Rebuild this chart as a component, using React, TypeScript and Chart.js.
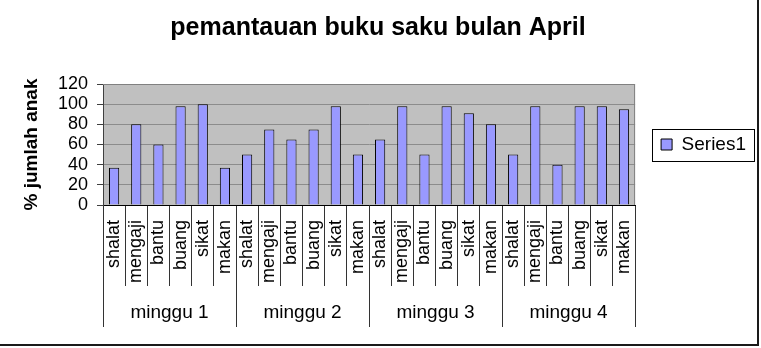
import React, { useEffect, useRef } from "react";
import { Chart, registerables } from "chart.js";

Chart.register(...registerables);

const chartTitle = "pemantauan buku saku bulan April";
const yAxisTitle = "% jumlah anak";
const seriesName = "Series1";
const activities = ["shalat", "mengaji", "bantu", "buang", "sikat", "makan"];
const weeks = ["minggu 1", "minggu 2", "minggu 3", "minggu 4"];
const week1 = [37, 80, 60, 98, 100, 37];
const week2 = [50, 75, 65, 75, 98, 50];
const week3 = [65, 98, 50, 98, 91, 80];
const week4 = [50, 98, 40, 98, 98, 95];
const yMin = 0;
const yMax = 120;
const yStep = 20;

const FONT = "'Liberation Sans', Arial, Helvetica, sans-serif";

const categoryLabels = weeks.flatMap(() => activities);
const seriesValues = [...week1, ...week2, ...week3, ...week4];

const decorPlugin = {
  id: "decor",
  afterLayout(chart: any) {
    // center the legend on the plot area vertically
    const lg = chart.legend;
    const a = chart.chartArea;
    if (lg && a) {
      const h = lg.bottom - lg.top;
      const mid = (a.top + a.bottom) / 2;
      const curMid = (lg.top + lg.bottom) / 2;
      const d = mid - curMid;
      lg.top += d;
      lg.bottom += d;
      if (lg.legendHitBoxes) {
        lg.legendHitBoxes.forEach((hb: any) => {
          hb.top += d;
        });
      }
      void h;
    }
  },
  beforeDraw(chart: any) {
    const { ctx, chartArea: a } = chart;
    ctx.save();
    ctx.fillStyle = "#ffffff";
    ctx.fillRect(0, 0, chart.width, chart.height);
    ctx.fillStyle = "#c0c0c0";
    ctx.fillRect(a.left, a.top, a.right - a.left, a.bottom - a.top);
    ctx.restore();
  },
  beforeDatasetsDraw(chart: any) {
    const { ctx, chartArea: a } = chart;
    ctx.save();
    ctx.strokeStyle = "#808080";
    ctx.lineWidth = 1;
    ctx.beginPath();
    ctx.moveTo(a.left, a.top + 0.5);
    ctx.lineTo(a.right - 0.5, a.top + 0.5);
    ctx.lineTo(a.right - 0.5, a.bottom);
    ctx.stroke();
    ctx.restore();
  },
  afterDraw(chart: any) {
    const { ctx } = chart;
    ctx.save();
    // legend frame
    const lg = chart.legend;
    if (lg && lg.legendHitBoxes && lg.legendHitBoxes.length) {
      const hb = lg.legendHitBoxes[0];
      const cy = hb.top + hb.height / 2;
      ctx.strokeStyle = "#000";
      ctx.lineWidth = 1;
      ctx.strokeRect(Math.round(hb.left - 9) + 0.5, Math.round(cy - 16) + 0.5, Math.round(hb.width + 17), 32);
    }
    // outer frame (right and bottom)
    ctx.strokeStyle = "#1a1a1a";
    ctx.lineWidth = 2;
    ctx.beginPath();
    ctx.moveTo(758, 0);
    ctx.lineTo(758, 345);
    ctx.lineTo(0, 345);
    ctx.stroke();
    ctx.restore();
  },
};

export default function App() {
  const ref = useRef<HTMLCanvasElement | null>(null);

  useEffect(() => {
    if (!ref.current) return;
    Chart.defaults.font.family = FONT;
    const chart = new Chart(ref.current, {
      type: "bar",
      data: {
        labels: categoryLabels,
        datasets: [
          {
            label: seriesName,
            data: seriesValues,
            xAxisID: "x",
            yAxisID: "y",
            backgroundColor: "#9999ff",
            borderColor: "#000000",
            borderWidth: 1,
            barPercentage: 0.46,
            categoryPercentage: 1,
          },
        ],
      },
      options: {
        responsive: false,
        animation: false,
        devicePixelRatio: 1,
        layout: { padding: { left: 0, top: 0, right: 5, bottom: 21 } },
        plugins: {
          title: {
            display: true,
            text: chartTitle,
            color: "#000",
            font: { size: 25, weight: "bold", family: FONT },
            padding: { top: 13, bottom: 41 },
          },
          legend: {
            display: true,
            position: "right",
            labels: {
              boxWidth: 11,
              boxHeight: 11,
              padding: 26,
              color: "#000",
              font: { size: 19, family: FONT },
            },
          },
          tooltip: { enabled: false },
        },
        scales: {
          x: {
            type: "category",
            position: "bottom",
            weight: 0,
            offset: true,
            grid: {
              offset: true,
              drawOnChartArea: false,
              drawTicks: true,
              tickLength: 81,
              color: "#333333",
              lineWidth: 1,
            },
            border: { display: true, color: "#000", width: 1 },
            ticks: {
              autoSkip: false,
              minRotation: 90,
              maxRotation: 90,
              padding: -66,
              color: "#000",
              font: { size: 18, family: FONT },
            },
            afterFit: (s: any) => {
              s.height = 81;
            },
          },
          x2: {
            type: "category",
            position: "bottom",
            weight: 1,
            labels: weeks,
            offset: true,
            grid: {
              offset: true,
              drawOnChartArea: false,
              drawTicks: true,
              tickLength: 41,
              color: "#333333",
              lineWidth: 1,
            },
            border: { display: false },
            ticks: {
              autoSkip: false,
              minRotation: 0,
              maxRotation: 0,
              padding: -25.4,
              color: "#000",
              font: { size: 19, family: FONT },
            },
            afterFit: (s: any) => {
              s.height = 41;
            },
          },
          y: {
            type: "linear",
            position: "left",
            min: yMin,
            max: yMax,
            ticks: {
              stepSize: yStep,
              autoSkip: false,
              padding: 9,
              color: "#000",
              font: { size: 18, family: FONT, lineHeight: 1 },
            },
            grid: {
              color: "#8c8c8c",
              tickColor: "#404040",
              tickLength: 6,
              drawTicks: true,
              lineWidth: 1,
            },
            border: { display: true, color: "#404040", width: 1 },
            title: {
              display: true,
              text: yAxisTitle,
              color: "#000",
              font: { size: 19, weight: "bold", family: FONT },
              padding: { top: 20, bottom: 0 },
            },
            afterFit: (s: any) => {
              s.width = 103;
            },
          },
        },
      },
      plugins: [decorPlugin],
    } as any);
    return () => chart.destroy();
  }, []);

  return (
    <div style={{ position: "fixed", left: 0, top: 0, width: 761, height: 348, background: "#fff" }}>
      <canvas ref={ref} width={761} height={348} style={{ display: "block", width: 761, height: 348 }} />
    </div>
  );
}
